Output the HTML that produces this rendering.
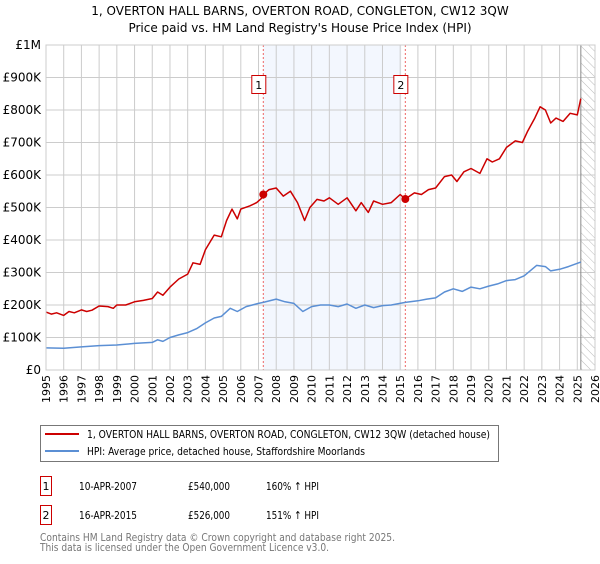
<!DOCTYPE html>
<html><head><meta charset="utf-8"><style>
body{margin:0;background:#fff;font-family:"DejaVu Sans","Liberation Sans",sans-serif;}
svg text{font-family:"DejaVu Sans","Liberation Sans",sans-serif;}
</style></head><body>
<svg id="chart" width="600" height="560" viewBox="0 0 600 560" xmlns="http://www.w3.org/2000/svg">
<defs><pattern id="hatch" width="6" height="6" patternUnits="userSpaceOnUse" patternTransform="rotate(-45)"><line x1="0" y1="0" x2="0" y2="6" stroke="#bbb" stroke-width="1"/></pattern></defs>
<text x="300" y="15" text-anchor="middle" font-size="12">1, OVERTON HALL BARNS, OVERTON ROAD, CONGLETON, CW12 3QW</text>
<text x="300" y="32" text-anchor="middle" font-size="12">Price paid vs. HM Land Registry's House Price Index (HPI)</text>
<g id="plot"></g>
<g>
<rect x="40.5" y="425.5" width="458" height="36" fill="#fff" stroke="#777"/>
<line x1="45" y1="434" x2="79" y2="434" stroke="#cc0000" stroke-width="2"/>
<text x="87" y="438" font-size="11" textLength="403" lengthAdjust="spacingAndGlyphs">1, OVERTON HALL BARNS, OVERTON ROAD, CONGLETON, CW12 3QW (detached house)</text>
<line x1="45" y1="451" x2="79" y2="451" stroke="#5b8fd4" stroke-width="2"/>
<text x="87" y="455" font-size="11" textLength="278" lengthAdjust="spacingAndGlyphs">HPI: Average price, detached house, Staffordshire Moorlands</text>
</g>
<g font-size="11">
<rect x="40.5" y="476.5" width="11" height="19" fill="#fff" stroke="#cc0000"/><text x="46" y="490" text-anchor="middle">1</text>
<text x="79" y="490" textLength="58" lengthAdjust="spacingAndGlyphs">10-APR-2007</text><text x="188" y="490" textLength="42" lengthAdjust="spacingAndGlyphs">£540,000</text><text x="266" y="490" textLength="53" lengthAdjust="spacingAndGlyphs">160% ↑ HPI</text>
<rect x="40.5" y="505.5" width="11" height="19" fill="#fff" stroke="#cc0000"/><text x="46" y="519" text-anchor="middle">2</text>
<text x="79" y="519" textLength="58" lengthAdjust="spacingAndGlyphs">16-APR-2015</text><text x="188" y="519" textLength="42" lengthAdjust="spacingAndGlyphs">£526,000</text><text x="266" y="519" textLength="53" lengthAdjust="spacingAndGlyphs">151% ↑ HPI</text>
</g>
<text x="40" y="541" font-size="11" fill="#777" textLength="355" lengthAdjust="spacingAndGlyphs">Contains HM Land Registry data © Crown copyright and database right 2025.</text>
<text x="40" y="551" font-size="11" fill="#777" textLength="289" lengthAdjust="spacingAndGlyphs">This data is licensed under the Open Government Licence v3.0.</text>
</svg>
<script>
const yTickValues=[0,100,200,300,400,500,600,700,800,900,1000];
const yTickLabels=["£0","£100K","£200K","£300K","£400K","£500K","£600K","£700K","£800K","£900K","£1M"];
const years=[1995,1996,1997,1998,1999,2000,2001,2002,2003,2004,2005,2006,2007,2008,2009,2010,2011,2012,2013,2014,2015,2016,2017,2018,2019,2020,2021,2022,2023,2024,2025,2026];
const redT=[1995.0,1995.3,1995.6,1996.0,1996.3,1996.6,1997.0,1997.3,1997.6,1998.0,1998.5,1998.8,1999.0,1999.5,2000.0,2000.5,2001.0,2001.3,2001.6,2002.0,2002.5,2003.0,2003.3,2003.7,2004.0,2004.5,2004.9,2005.2,2005.5,2005.8,2006.0,2006.5,2006.9,2007.2,2007.27,2007.6,2008.0,2008.4,2008.8,2009.2,2009.6,2009.9,2010.3,2010.7,2011.0,2011.5,2012.0,2012.5,2012.8,2013.2,2013.5,2014.0,2014.5,2015.0,2015.29,2015.8,2016.2,2016.6,2017.0,2017.5,2017.9,2018.2,2018.6,2019.0,2019.5,2019.9,2020.2,2020.6,2021.0,2021.5,2021.9,2022.2,2022.6,2022.9,2023.2,2023.5,2023.8,2024.2,2024.6,2025.0,2025.2];
const redV=[178,172,176,168,180,176,185,180,184,197,195,190,200,200,210,214,220,240,230,255,280,295,330,325,370,415,410,460,495,465,495,505,515,530,540,555,560,535,550,515,460,500,525,520,530,510,530,490,515,485,520,510,515,540,526,545,540,555,560,595,600,580,610,620,605,650,640,650,685,705,700,735,775,810,800,760,775,765,790,785,835];
const blueT=[1995.0,1996.0,1997.0,1998.0,1999.0,2000.0,2001.0,2001.3,2001.6,2002.0,2002.5,2003.0,2003.5,2004.0,2004.5,2004.9,2005.4,2005.8,2006.3,2007.0,2007.27,2008.0,2008.5,2009.0,2009.5,2010.0,2010.5,2011.0,2011.5,2012.0,2012.5,2013.0,2013.5,2014.0,2014.5,2015.29,2016.0,2016.5,2017.0,2017.5,2018.0,2018.5,2019.0,2019.5,2020.0,2020.5,2021.0,2021.5,2022.0,2022.7,2023.2,2023.5,2024.0,2024.5,2025.2];
const blueV=[68,67,71,75,77,82,85,93,88,100,108,115,127,145,160,165,190,180,195,205,208,218,210,205,180,195,200,200,195,203,190,200,192,198,200,208,213,218,222,240,250,242,255,250,258,265,275,278,290,322,318,305,310,318,332];
const sales=[{t:2007.27,v:540,label:"1"},{t:2015.29,v:526,label:"2"}];
const X0=46,X1=595,Y0=370,Y1=45;
const xs=t=>X0+(t-1995)/(2026-1995)*(X1-X0);
const ys=v=>Y0-v/1000*(Y0-Y1);
const NS="http://www.w3.org/2000/svg";
const g=document.getElementById('plot');
function mk(tag,attrs,parent){const e=document.createElementNS(NS,tag);for(const k in attrs)e.setAttribute(k,attrs[k]);(parent||g).appendChild(e);return e;}
let e=mk('rect',{x:xs(sales[0].t),y:Y1,width:xs(sales[1].t)-xs(sales[0].t)-4,height:Y0-Y1,fill:'#eef3fd',opacity:0.7});


e=mk('rect',{x:xs(2025.2),y:Y1,width:X1-xs(2025.2),height:Y0-Y1,fill:'url(#hatch)'});


years.forEach(y=>{
  let l=mk('line',{x1:xs(y),x2:xs(y),y1:Y1,y2:Y0,stroke:'#ccc','stroke-width':1});
  
  
  let t=mk('text',{x:0,y:0,'font-size':11,'text-anchor':'end',transform:`translate(${xs(y)+4},${Y0+5}) rotate(-90)`});
  t.textContent=y;
  
  
});
yTickValues.forEach((v,i)=>{
  let l=mk('line',{x1:X0,x2:X1,y1:ys(v),y2:ys(v),stroke:'#ccc','stroke-width':1});
  
  
  let t=mk('text',{x:X0-5,y:ys(v)+4,'font-size':12,'text-anchor':'end'});
  t.textContent=yTickLabels[i];
  
  
});
e=mk('line',{x1:xs(2025.2),x2:xs(2025.2),y1:Y1,y2:Y0,stroke:'#888','stroke-width':1});


sales.forEach(s=>{
  let l=mk('line',{x1:xs(s.t),x2:xs(s.t),y1:Y1,y2:Y0,stroke:'#e66','stroke-width':1,'stroke-dasharray':'2,2'});
  
  
});
function path(T,V,col,name){
  let d=T.map((t,i)=>(i?'L':'M')+xs(t).toFixed(1)+','+ys(V[i]).toFixed(1)).join('');
  let p=mk('path',{d:d,fill:'none',stroke:col,'stroke-width':1.5,'stroke-linejoin':'round'});
  
  
}
path(blueT,blueV,'#5b8fd4','hpi-line');
path(redT,redV,'#cc0000','price-line');
sales.forEach(s=>{
  let c=mk('circle',{cx:xs(s.t),cy:ys(s.v),r:4,fill:'#cc0000'});
  
  
  let r=mk('rect',{x:xs(s.t)-11.5,y:75.5,width:14,height:18,fill:'#fff',stroke:'#cc0000'});
  
  
  let t=mk('text',{x:xs(s.t)-4.5,y:89,'font-size':11,'text-anchor':'middle'});
  t.textContent=s.label;
  
  
});
e=mk('rect',{x:X0,y:Y1,width:X1-X0,height:Y0-Y1,fill:'none',stroke:'#ccc'});


</script>
</body></html>
